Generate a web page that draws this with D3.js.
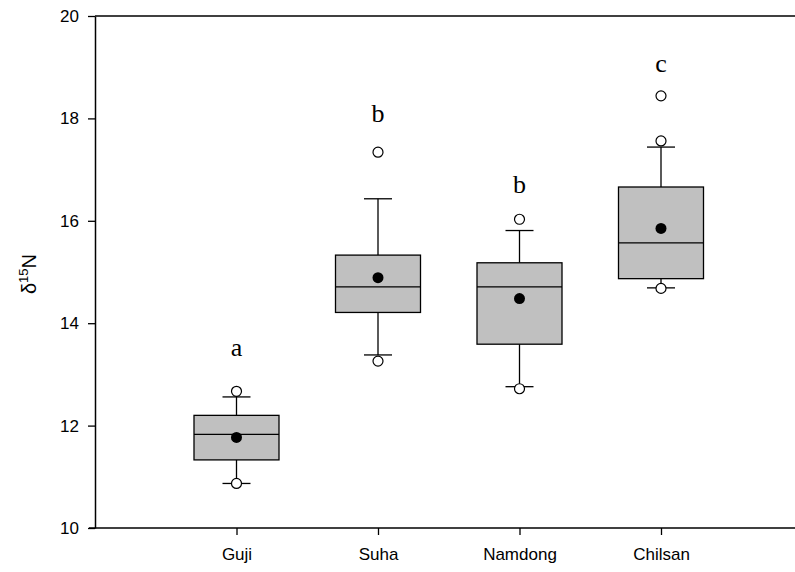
<!DOCTYPE html>
<html>
<head>
<meta charset="utf-8">
<script src="https://cdn.jsdelivr.net/npm/d3@7"></script>
<style>
  html, body { margin: 0; padding: 0; background: #fff; }
  svg { display: block; }
</style>
</head>
<body>
<svg id="chart" width="795" height="572"></svg>
<script>
// Sites along the x axis
const sites = ["Guji", "Suha", "Namdong", "Chilsan"];

// Box statistics of δ15N (‰) per site
const q1       = [11.33, 14.21, 13.59, 14.87];
const medians  = [11.83, 14.71, 14.71, 15.57];
const q3       = [12.20, 15.33, 15.18, 16.66];
const whiskLo  = [10.87, 13.38, 12.76, 14.69];
const whiskHi  = [12.56, 16.43, 15.81, 17.44];
const means    = [11.77, 14.89, 14.48, 15.85];

// Points beyond the whiskers (5th / 95th percentiles)
const outliers = [
  [12.67, 10.87],
  [17.34, 13.26],
  [16.03, 12.72],
  [18.44, 17.56, 14.68]
];

// Significance groups and the height each letter sits at
const groupLetters = ["a", "b", "b", "c"];
const letterY      = [13.36, 17.93, 16.54, 18.91];

const yTicks = [10, 12, 14, 16, 18, 20];

const svg = d3.select("#chart");
const mLeft = 95, mRight = 802.5, mTop = 16, mBottom = 528;

const x = d3.scaleLinear().domain([0, 5]).range([mLeft, mRight]);
const y = d3.scaleLinear().domain([10, 20]).range([mBottom, mTop]);

const boxW = 85, capW = 28;
const lineCol = "#000";

// Plot frame (top edge)
svg.append("line").attr("x1", mLeft).attr("x2", mRight + 10).attr("y1", mTop).attr("y2", mTop)
  .attr("stroke", lineCol).attr("stroke-width", 1.5);

// Y axis
const yAxis = d3.axisLeft(y).tickValues(yTicks).tickSize(7).tickPadding(9)
  .tickFormat(d3.format("d")).tickSizeOuter(0);
const gy = svg.append("g").attr("transform", `translate(${mLeft},0)`).call(yAxis);
gy.select(".domain").attr("stroke-width", 1.5);
gy.selectAll(".tick line").attr("stroke-width", 1.3);
gy.selectAll(".tick text").attr("font-family", "Liberation Sans, Arial, sans-serif")
  .attr("font-size", 17).attr("fill", "#000");

// X axis
const xAxis = d3.axisBottom(x).tickValues([1, 2, 3, 4]).tickSize(7).tickPadding(13)
  .tickFormat(d => sites[d - 1]).tickSizeOuter(0);
const gx = svg.append("g").attr("transform", `translate(0,${mBottom})`).call(xAxis);
gx.select(".domain").attr("stroke-width", 1.5).attr("d", `M${mLeft - 6},0H${mRight + 10}`);
gx.selectAll(".tick line").attr("stroke-width", 1.3);
gx.selectAll(".tick text").attr("font-family", "Liberation Sans, Arial, sans-serif")
  .attr("font-size", 17).attr("fill", "#000");

// Y axis title: δ15N
const yTitle = svg.append("text")
  .attr("transform", `translate(36,${(mTop + mBottom) / 2 + 2}) rotate(-90)`)
  .attr("text-anchor", "middle")
  .attr("font-family", "Liberation Sans, Arial, sans-serif")
  .attr("font-size", 20).attr("fill", "#000");
yTitle.append("tspan").text("δ");
yTitle.append("tspan").attr("font-size", 13).attr("dy", -8).text("15");
yTitle.append("tspan").attr("dy", 8).text("N");

// Boxes
const g = svg.append("g");
sites.forEach((s, i) => {
  const cx = x(i + 1);
  // whiskers
  g.append("line").attr("x1", cx).attr("x2", cx).attr("y1", y(q3[i])).attr("y2", y(whiskHi[i]))
    .attr("stroke", lineCol).attr("stroke-width", 1.3);
  g.append("line").attr("x1", cx).attr("x2", cx).attr("y1", y(q1[i])).attr("y2", y(whiskLo[i]))
    .attr("stroke", lineCol).attr("stroke-width", 1.3);
  [whiskHi[i], whiskLo[i]].forEach(v => {
    g.append("line").attr("x1", cx - capW / 2).attr("x2", cx + capW / 2).attr("y1", y(v)).attr("y2", y(v))
      .attr("stroke", lineCol).attr("stroke-width", 1.3);
  });
  // box
  g.append("rect").attr("x", cx - boxW / 2).attr("width", boxW)
    .attr("y", y(q3[i])).attr("height", y(q1[i]) - y(q3[i]))
    .attr("fill", "#c0c0c0").attr("stroke", lineCol).attr("stroke-width", 1.3);
  // median
  g.append("line").attr("x1", cx - boxW / 2).attr("x2", cx + boxW / 2)
    .attr("y1", y(medians[i])).attr("y2", y(medians[i]))
    .attr("stroke", lineCol).attr("stroke-width", 1.3);
  // mean
  g.append("circle").attr("cx", cx).attr("cy", y(means[i])).attr("r", 5.5).attr("fill", "#000");
  // outliers
  outliers[i].forEach(v => {
    g.append("circle").attr("cx", cx).attr("cy", y(v)).attr("r", 5)
      .attr("fill", "#fff").attr("stroke", lineCol).attr("stroke-width", 1.2);
  });
  // group letter
  g.append("text").attr("x", cx).attr("y", y(letterY[i]))
    .attr("text-anchor", "middle")
    .attr("font-family", "Liberation Serif, Times New Roman, serif")
    .attr("font-size", 26).attr("fill", "#000")
    .text(groupLetters[i]);
});
</script>
</body>
</html>
